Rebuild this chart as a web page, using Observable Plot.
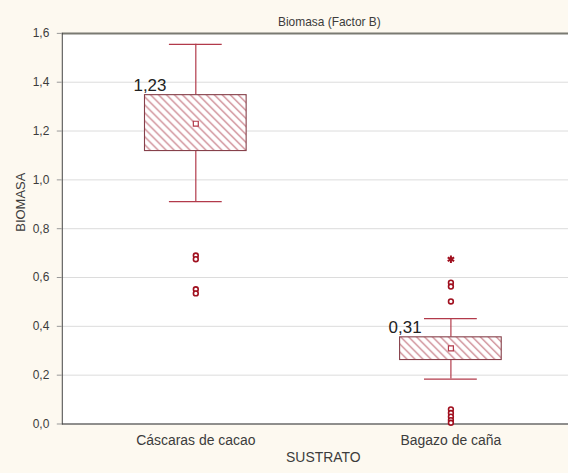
<!DOCTYPE html>
<html>
<head>
<meta charset="utf-8">
<script src="https://cdn.jsdelivr.net/npm/d3@7"></script>
<script src="https://cdn.jsdelivr.net/npm/@observablehq/plot@0.6"></script>
<style>
  html, body { margin: 0; padding: 0; background: #fdf9f0; }
  #wrap { width: 568px; height: 473px; overflow: hidden; }
</style>
</head>
<body>
<div id="wrap"></div>
<script>
const categories = ["Cáscaras de cacao", "Bagazo de caña"];
const meanValues = [1.23, 0.31];
const meanLabels = ["1,23", "0,31"];
const q1Values = [1.118, 0.262];
const q3Values = [1.347, 0.355];
const whiskerLow = [0.911, 0.184];
const whiskerHigh = [1.555, 0.432];
const outliersCacao = [0.69, 0.675, 0.552, 0.535];
const outliersBagazo = [0.579, 0.563, 0.502, 0.06, 0.045, 0.03, 0.016, 0.005];
const extremesBagazo = [0.675];
const yTicks = [0, 0.2, 0.4, 0.6, 0.8, 1.0, 1.2, 1.4, 1.6];
const title = "Biomasa (Factor B)";
const xLabel = "SUSTRATO";
const yLabel = "BIOMASA";

const idx = categories.map((_, i) => i);
const outliers = [
  ...outliersCacao.map(v => ({cat: categories[0], v})),
  ...outliersBagazo.map(v => ({cat: categories[1], v}))
];
const extremes = extremesBagazo.map(v => ({cat: categories[1], v}));

const fmt = d => d.toFixed(1).replace(".", ",");
const font = "'Liberation Sans', Arial, sans-serif";
const txt = "#3c3c3c";

const chart = Plot.plot({
  width: 570,
  height: 473,
  marginLeft: 62,
  marginRight: 0,
  marginTop: 33,
  marginBottom: 48,
  style: {fontFamily: font, fontSize: "12px", color: txt, background: "#fdf9f0"},
  x: {type: "band", domain: categories, range: [145, 503], paddingInner: 0.6016, paddingOuter: 0},
  y: {domain: [0, 1.6]},
  marks: [
    Plot.frame({fill: "white", stroke: null}),
    Plot.gridY(yTicks, {stroke: "#dcdcdc", strokeOpacity: 1}),
    Plot.ruleY([0], {stroke: "#333", strokeWidth: 1.2}),
    Plot.ruleY([1.6], {stroke: "#7a7a72", strokeWidth: 2}),
    Plot.frame({anchor: "left", stroke: "#444"}),
    Plot.axisY(yTicks, {tickFormat: fmt, tickSize: 5, tickPadding: 8, label: null, fontSize: 12, stroke: "#999", fill: txt}),
    Plot.axisX({tickSize: 0, tickPadding: 11, label: null, fontSize: 14, fill: txt}),
    Plot.text([yLabel], {frameAnchor: "left", rotate: -90, dx: -42, dy: 3, fontSize: 13, fill: txt}),
    Plot.text([xLabel], {frameAnchor: "bottom", dx: 8, dy: 38, fontSize: 14, fill: txt}),
    Plot.text([title], {frameAnchor: "top", dy: -16, dx: 14, fontSize: 12, fill: txt}),
    Plot.ruleX(idx, {x: i => categories[i], y1: i => whiskerLow[i], y2: i => q1Values[i], stroke: "#b23a4a", strokeWidth: 1.2}),
    Plot.ruleX(idx, {x: i => categories[i], y1: i => q3Values[i], y2: i => whiskerHigh[i], stroke: "#b23a4a", strokeWidth: 1.2}),
    Plot.tickY(idx, {x: i => categories[i], y: i => whiskerLow[i], stroke: "#b23a4a", strokeWidth: 1.2, insetLeft: 24.5, insetRight: 24.5}),
    Plot.tickY(idx, {x: i => categories[i], y: i => whiskerHigh[i], stroke: "#b23a4a", strokeWidth: 1.2, insetLeft: 24.5, insetRight: 24.5}),
    Plot.barY(idx, {x: i => categories[i], y1: i => q1Values[i], y2: i => q3Values[i], fill: "url(#hatch)", stroke: "#86404a", strokeWidth: 1.1}),
    Plot.dot(idx, {x: i => categories[i], y: i => meanValues[i], symbol: "square", r: 2.8, stroke: "#b23a4a", fill: "white", strokeWidth: 1.2}),
    Plot.text(idx, {x: i => categories[i], y: i => q3Values[i], text: i => meanLabels[i], dx: -46, dy: -4, lineAnchor: "bottom", fontSize: 17, fill: "#222"}),
    Plot.dot(outliers, {x: "cat", y: "v", r: 2.4, stroke: "#a0101f", strokeWidth: 1.6, fill: "white"}),
    Plot.dot(extremes, {x: "cat", y: "v", symbol: "asterisk", r: 3.5, stroke: "#a0101f", strokeWidth: 2})
  ]
});

const svg = d3.select(chart);
const defs = svg.insert("defs", ":first-child");
const pat = defs.append("pattern")
  .attr("id", "hatch")
  .attr("patternUnits", "userSpaceOnUse")
  .attr("width", 8).attr("height", 8);
pat.append("rect").attr("width", 8).attr("height", 8).attr("fill", "white");
pat.append("path")
  .attr("d", "M0,0L8,8M-2,6L2,10M6,-2L10,2")
  .attr("stroke", "#bf6a76")
  .attr("stroke-width", 1.1);

document.getElementById("wrap").appendChild(chart);
</script>
</body>
</html>
